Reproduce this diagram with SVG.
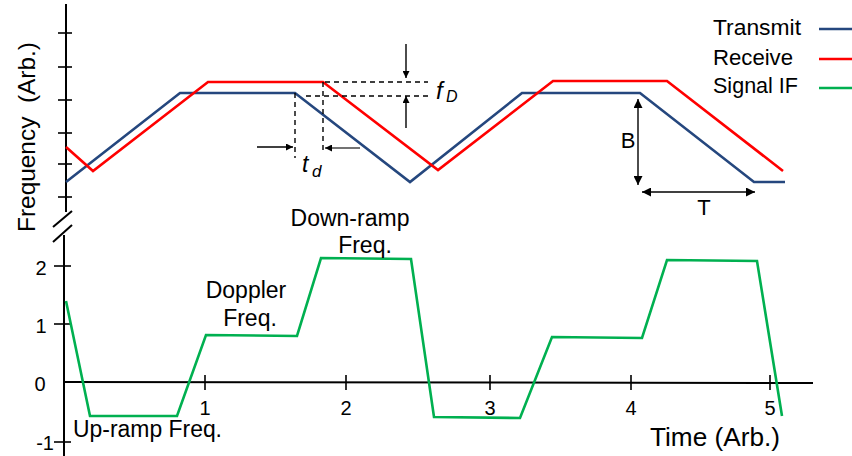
<svg xmlns="http://www.w3.org/2000/svg" width="852" height="456" viewBox="0 0 852 456">
<defs>
<marker id="ah" viewBox="0 0 10 10" refX="10" refY="5" markerWidth="7" markerHeight="7" markerUnits="userSpaceOnUse" orient="auto-start-reverse">
<path d="M0,0 L10,5 L0,10 z" fill="#000"/>
</marker>
<marker id="ah2" viewBox="0 0 10 10" refX="10" refY="5" markerWidth="9" markerHeight="9" markerUnits="userSpaceOnUse" orient="auto-start-reverse">
<path d="M0,0 L10,5 L0,10 z" fill="#000"/>
</marker>
</defs>
<style>
text{font-family:"Liberation Sans",Arial,sans-serif;fill:#000}
.ax{stroke:#000;stroke-width:2;fill:none}
.tk{stroke:#000;stroke-width:1.6;fill:none}
.tx{stroke:#25477e;stroke-width:2.6;fill:none;stroke-linejoin:miter}
.rx{stroke:#ff0000;stroke-width:2.6;fill:none}
.if{stroke:#00b050;stroke-width:2.6;fill:none}
.dash{stroke:#000;stroke-width:1.4;stroke-dasharray:5,4;fill:none}
.arr{stroke:#000;stroke-width:1.4;fill:none;marker-end:url(#ah)}
.dbl{stroke:#000;stroke-width:1.4;fill:none;marker-end:url(#ah2);marker-start:url(#ah2)}
.lbl{font-size:23px}
.num{font-size:20px}
</style>
<rect width="852" height="456" fill="#fff"/>

<g id="axes">
<line class="ax" x1="66" y1="4" x2="66" y2="212"/>
<line class="ax" x1="64" y1="235" x2="64" y2="456"/>
<line class="ax" x1="53" y1="227" x2="72" y2="211"/>
<line class="ax" x1="53" y1="242" x2="72" y2="225"/>
<line class="ax" x1="64" y1="382" x2="813" y2="383"/>
<g class="tk">
<line x1="58" y1="33" x2="72" y2="33"/>
<line x1="58" y1="67" x2="72" y2="67"/>
<line x1="58" y1="100" x2="72" y2="100"/>
<line x1="58" y1="133" x2="72" y2="133"/>
<line x1="58" y1="164" x2="72" y2="164"/>
<line x1="58" y1="197" x2="72" y2="197"/>
<line x1="54" y1="266" x2="71" y2="266"/>
<line x1="54" y1="324" x2="71" y2="324"/>
<line x1="54" y1="442" x2="71" y2="442"/>
<line x1="205" y1="375" x2="205" y2="390"/>
<line x1="346" y1="375" x2="346" y2="390"/>
<line x1="490" y1="375" x2="490" y2="390"/>
<line x1="631" y1="375" x2="631" y2="390"/>
<line x1="770" y1="375" x2="770" y2="390"/>
</g>
<g class="num">
<text x="41" y="275" text-anchor="middle">2</text>
<text x="41" y="333" text-anchor="middle">1</text>
<text x="40" y="391" text-anchor="middle">0</text>
<text x="54" y="450" text-anchor="end">-1</text>
<text x="205" y="415" text-anchor="middle">1</text>
<text x="346" y="415" text-anchor="middle">2</text>
<text x="490" y="415" text-anchor="middle">3</text>
<text x="631" y="415" text-anchor="middle">4</text>
<text x="770" y="415" text-anchor="middle">5</text>
</g>
<text transform="translate(35,137) rotate(-90)" text-anchor="middle" font-size="24" textLength="190" lengthAdjust="spacingAndGlyphs" xml:space="preserve">Frequency  (Arb.)</text>
<text x="650" y="446" font-size="25" textLength="130" lengthAdjust="spacingAndGlyphs">Time (Arb.)</text>
</g>

<g id="transmit">
<polyline class="tx" points="66,182 180,93 295,93 410,182 522,93 640,93 754,182 785,182"/>
</g>
<g id="receive">
<polyline class="rx" points="66,147 93,171 208,82 323,82 438,170 553,81 667,81 783,171"/>
</g>
<g id="signal-if">
<polyline class="if" points="66,301 90,416 177,416 206,335 297,336 321,258 411,259 434,417 520,418 552,337 642,338 667,260 757,261 782,416"/>
</g>

<g id="legend">
<text x="713" y="35" font-size="22" textLength="88" lengthAdjust="spacingAndGlyphs">Transmit</text>
<text x="713" y="65" font-size="22" textLength="80" lengthAdjust="spacingAndGlyphs">Receive</text>
<text x="713" y="93" font-size="22" textLength="85" lengthAdjust="spacingAndGlyphs">Signal IF</text>
<line class="tx" x1="819" y1="29" x2="852" y2="29"/>
<line class="rx" x1="819" y1="59" x2="852" y2="59"/>
<line class="if" x1="819" y1="88" x2="852" y2="88"/>
</g>

<g id="annotations">
<line class="dash" x1="295" y1="93" x2="295" y2="158"/>
<line class="dash" x1="323" y1="82" x2="323" y2="153"/>
<line class="dash" x1="325" y1="82" x2="428" y2="82"/>
<line class="dash" x1="306" y1="96" x2="428" y2="96"/>
<line class="arr" x1="406" y1="44" x2="406" y2="78"/>
<line class="arr" x1="406" y1="128" x2="406" y2="96"/>
<line class="arr" x1="257" y1="147" x2="293" y2="147"/>
<line class="arr" x1="360" y1="148" x2="325" y2="148" style="stroke:#444"/>
<text x="302" y="172" font-size="23" font-style="italic">t</text>
<text x="312" y="177" font-size="17" font-style="italic">d</text>
<text x="436" y="99" font-size="24" font-style="italic">f</text>
<text x="446" y="102" font-size="16" font-style="italic">D</text>
<line class="dbl" x1="638" y1="99" x2="638" y2="185"/>
<line class="dbl" x1="642" y1="192" x2="755" y2="192"/>
<text x="628" y="148" font-size="22" text-anchor="middle">B</text>
<text x="704" y="215" font-size="22" text-anchor="middle">T</text>
</g>

<g id="if-labels" class="lbl">
<text x="73" y="437" textLength="149" lengthAdjust="spacingAndGlyphs">Up-ramp Freq.</text>
<text x="246" y="298" text-anchor="middle">Doppler</text>
<text x="250" y="326" text-anchor="middle">Freq.</text>
<text x="350" y="226" text-anchor="middle">Down-ramp</text>
<text x="365" y="253" text-anchor="middle">Freq.</text>
</g>
</svg>
